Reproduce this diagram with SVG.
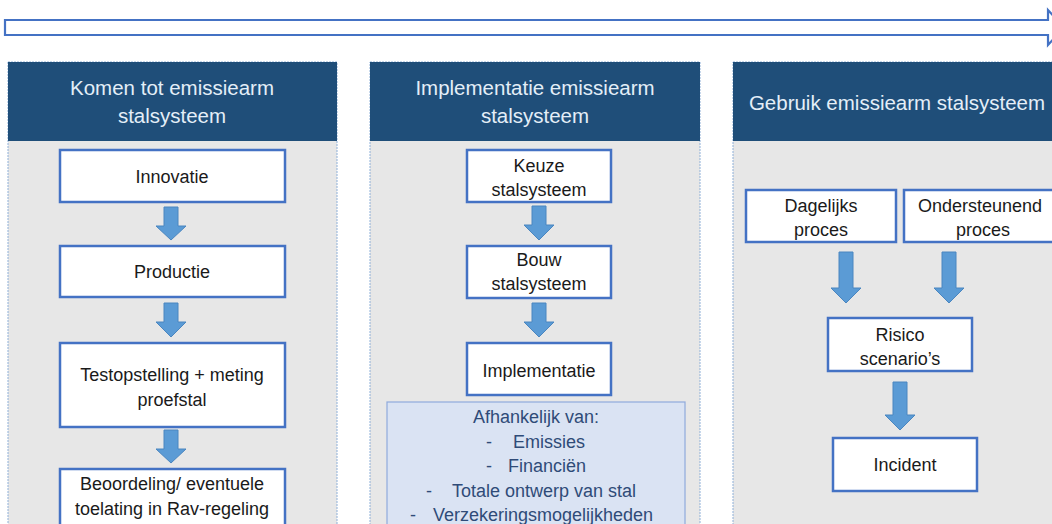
<svg xmlns="http://www.w3.org/2000/svg" width="1052" height="524" viewBox="0 0 1052 524">
<style>
  .panel{fill:#e7e7e7;stroke:#8fb0d8;stroke-width:1;stroke-dasharray:2 1}
  .head{fill:#1f4e79}
  .ht{font-family:"Liberation Sans",Arial,sans-serif;font-size:20.5px;fill:#e4eef8;text-anchor:middle}
  .box{fill:#ffffff;stroke:#4472c4;stroke-width:2.5}
  .bt{font-family:"Liberation Sans",Arial,sans-serif;font-size:18px;fill:#1a1a1a;text-anchor:middle}
  .arr{fill:#5b9bd5;stroke:#4a86c0;stroke-width:1}
  .note{fill:#dae3f3;stroke:#8faadc;stroke-width:1.2}
  .nt{font-family:"Liberation Sans",Arial,sans-serif;font-size:18px;fill:#2f4b78}
</style>
<rect width="1052" height="524" fill="#ffffff"/>
<g id="timeline">
  <path d="M5,20 H1048 V10 L1064,27.5 L1048,45 V35 H5 Z" fill="#ffffff" stroke="#4472c4" stroke-width="2.2"/>
</g>
<g id="panel1">
  <rect class="panel" x="8" y="62" width="329" height="470"/>
  <rect class="head" x="8" y="62" width="329" height="79"/>
  <text class="ht" x="172" y="95">Komen tot emissiearm</text>
  <text class="ht" x="172" y="123">stalsysteem</text>
</g>
<g id="panel2">
  <rect class="panel" x="370" y="62" width="330" height="470"/>
  <rect class="head" x="370" y="62" width="330" height="79"/>
  <text class="ht" x="535" y="95">Implementatie emissiearm</text>
  <text class="ht" x="535" y="123">stalsysteem</text>
</g>
<g id="panel3">
  <rect class="panel" x="733" y="62" width="330" height="470"/>
  <rect class="head" x="733" y="62" width="330" height="79"/>
  <text class="ht" x="897" y="110">Gebruik emissiearm stalsysteem</text>
</g>
<g id="connectors">
  <polygon class="arr" points="164,207 178,207 178,226 186,226 171,240 156,226 164,226"/>
  <polygon class="arr" points="164,303 178,303 178,322 186,322 171,337 156,322 164,322"/>
  <polygon class="arr" points="164,430 178,430 178,449 186,449 171,463 156,449 164,449"/>
  <polygon class="arr" points="532,206 546,206 546,225 554,225 539,240 524,225 532,225"/>
  <polygon class="arr" points="532,303 546,303 546,322 554,322 539,337 524,322 532,322"/>
  <polygon class="arr" points="839,252 853,252 853,288 861,288 846,303 831,288 839,288"/>
  <polygon class="arr" points="942,252 956,252 956,288 964,288 949,303 934,288 942,288"/>
  <polygon class="arr" points="893,382 907,382 907,415 915,415 900,430 885,415 893,415"/>
</g>
<g id="innovatie">
  <rect class="box" x="60" y="150" width="225" height="52"/>
  <text class="bt" x="172" y="183">Innovatie</text>
</g>
<g id="productie">
  <rect class="box" x="60" y="246" width="225" height="51"/>
  <text class="bt" x="172" y="278">Productie</text>
</g>
<g id="testopstelling">
  <rect class="box" x="60" y="343" width="225" height="84"/>
  <text class="bt" x="172" y="381">Testopstelling + meting</text>
  <text class="bt" x="172" y="406">proefstal</text>
</g>
<g id="beoordeling">
  <rect class="box" x="60" y="469" width="225" height="60"/>
  <text class="bt" x="172" y="490">Beoordeling/ eventuele</text>
  <text class="bt" x="172" y="515">toelating in Rav-regeling</text>
</g>
<g id="keuze">
  <rect class="box" x="467" y="150" width="144" height="52"/>
  <text class="bt" x="539" y="172">Keuze</text>
  <text class="bt" x="539" y="196">stalsysteem</text>
</g>
<g id="bouw">
  <rect class="box" x="467" y="246" width="144" height="52"/>
  <text class="bt" x="539" y="266">Bouw</text>
  <text class="bt" x="539" y="290">stalsysteem</text>
</g>
<g id="implementatie">
  <rect class="box" x="467" y="343" width="144" height="52"/>
  <text class="bt" x="539" y="377">Implementatie</text>
</g>
<g id="afhankelijk">
  <rect class="note" x="387" y="402" width="298" height="130"/>
  <text class="nt" x="536" y="423" text-anchor="middle">Afhankelijk van:</text>
  <text class="nt" x="486" y="448">-</text><text class="nt" x="513" y="448">Emissies</text>
  <text class="nt" x="486" y="472">-</text><text class="nt" x="508" y="472">Financiën</text>
  <text class="nt" x="426" y="497">-</text><text class="nt" x="452" y="497">Totale ontwerp van stal</text>
  <text class="nt" x="410" y="521">-</text><text class="nt" x="433" y="521">Verzekeringsmogelijkheden</text>
</g>
<g id="dagelijks">
  <rect class="box" x="746" y="190" width="150" height="52"/>
  <text class="bt" x="821" y="212">Dagelijks</text>
  <text class="bt" x="821" y="236">proces</text>
</g>
<g id="ondersteunend">
  <rect class="box" x="904" y="190" width="160" height="52"/>
  <text class="bt" x="980" y="212">Ondersteunend</text>
  <text class="bt" x="983" y="236">proces</text>
</g>
<g id="risico">
  <rect class="box" x="828" y="318" width="144" height="53"/>
  <text class="bt" x="900" y="341">Risico</text>
  <text class="bt" x="900" y="365">scenario’s</text>
</g>
<g id="incident">
  <rect class="box" x="833" y="438" width="144" height="53"/>
  <text class="bt" x="905" y="471">Incident</text>
</g>
</svg>
